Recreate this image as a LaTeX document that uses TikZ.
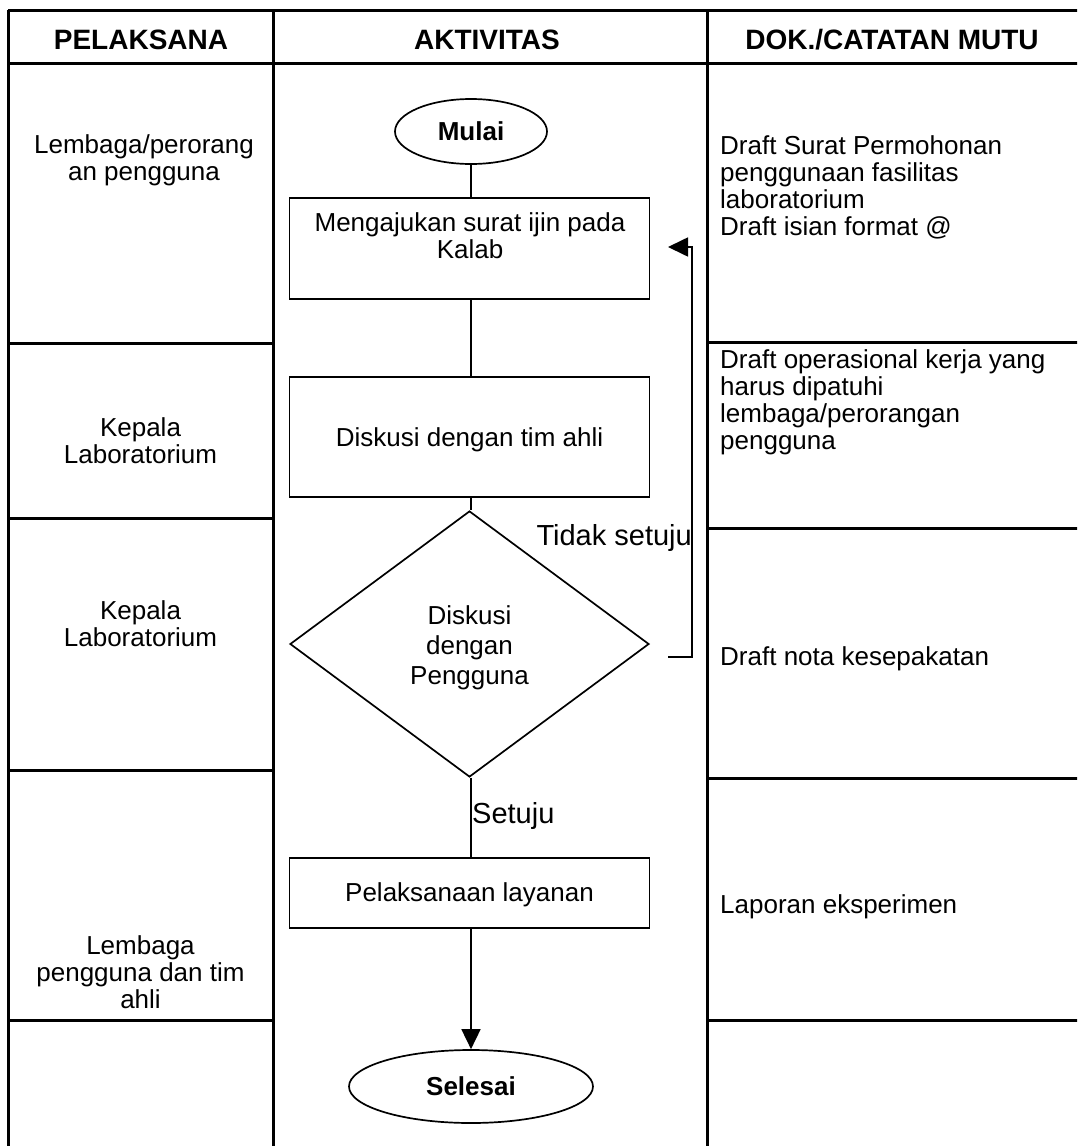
\documentclass[tikz,border=0pt]{standalone}
\usepackage{fontspec}
\setmainfont{Liberation Sans}
\usetikzlibrary{arrows.meta,shapes.geometric}
\tikzset{
  grid/.style={line width=3pt},
  flow/.style={line width=1.7pt},
  txt/.style={font=\fontsize{26}{27}\selectfont, inner sep=0pt},
  head/.style={font=\fontsize{28}{30}\selectfont\bfseries, inner sep=0pt},
  lefttxt/.style={txt, align=center},
  righttxt/.style={txt, align=left, anchor=west},
  boxshape/.style={flow, draw, rectangle, minimum width=360pt, inner sep=0pt},
  term/.style={flow, draw, ellipse, inner sep=0pt, font=\fontsize{26}{27}\selectfont\bfseries},
  dec/.style={flow, draw, diamond, inner sep=0pt, minimum width=359pt, minimum height=266pt},
  lab/.style={font=\fontsize{29}{32}\selectfont, inner sep=0pt},
  tip/.style={-{Triangle[length=20pt,width=19pt]}}
}
\begin{document}
\begin{tikzpicture}[x=1pt,y=-1pt]
\clip (0,0) rectangle (1077,1146);
% table grid
\draw[grid] (8,10) -- (1090,10);
\draw[grid] (8,63) -- (1090,63);
\draw[grid] (8,10) -- (8,1160);
\draw[grid] (273,10) -- (273,1160);
\draw[grid] (707,10) -- (707,1160);
\foreach \y in {343,518,770,1020} \draw[grid] (8,\y) -- (273,\y);
\foreach \y in {342,528,778,1020} \draw[grid] (707,\y) -- (1090,\y);
% headers
\node[head] (h1) at (141,40) {PELAKSANA};
\node[head] (h2) at (487,40) {AKTIVITAS};
\node[head] (h3) at (892,40) {DOK./CATATAN MUTU};
% left column
\node[lefttxt] (l1) at (144,160) {Lembaga/perorang\\an pengguna};
\node[lefttxt] (l2) at (140.5,441) {Kepala\\Laboratorium};
\node[lefttxt] (l3) at (140.5,624) {Kepala\\Laboratorium};
\node[lefttxt] (l4) at (140.5,972) {Lembaga\\pengguna dan tim\\ahli};
% right column
\node[righttxt] (r1) at (720,187) {Draft Surat Permohonan\\penggunaan fasilitas\\laboratorium\\Draft isian format @};
\node[righttxt] (r2) at (720,402) {Draft operasional kerja yang\\harus dipatuhi\\lembaga/perorangan\\pengguna};
\node[txt, anchor=west] (r3) at (720,659) {Draft nota kesepakatan};
\node[txt, anchor=west] (r4) at (720,907) {Laporan eksperimen};
% flow
\node[term, minimum width=152pt, minimum height=65pt] (start) at (471,131.5) {Mulai};
\node[boxshape, minimum height=101pt] (b1) at (469.5,248.5) {};
\node[lefttxt] (b1t) at (470,236) {Mengajukan surat ijin pada\\Kalab};
\node[boxshape, minimum height=120pt] (b2) at (469.5,437) {};
\node[txt] (b2t) at (469.5,440) {Diskusi dengan tim ahli};
\node[dec] (d) at (469.5,644) {};
\node[lefttxt, font=\fontsize{26}{30}\selectfont] (dt) at (469.5,648) {Diskusi\\dengan\\Pengguna};
\node[boxshape, minimum height=70pt] (b3) at (469.5,893) {};
\node[txt] (b3t) at (469.5,895) {Pelaksanaan layanan};
\node[term, minimum width=244pt, minimum height=73pt] (end) at (471,1086.5) {Selesai};
\draw[flow] (start.south) -- (b1.north -| start.south);
\draw[flow] (b1.south -| start.south) -- (b2.north -| start.south);
\draw[flow] (b2.south -| start.south) -- (d.north -| start.south);
\draw[flow] (d.south -| start.south) -- (b3.north -| start.south);
\draw[flow, tip] (b3.south -| start.south) -- (end.north);
\node[lab, anchor=base west] (yes) at (472,823) {Setuju};
\node[lab, anchor=base east] (no) at (692,545) {Tidak setuju};
\coordinate (fb1) at (668,657);
\coordinate (fb2) at (668,247);
\draw[flow] (fb1) -- (692,657) -- (692,247) -- (688,247);
\draw[flow, tip] (692,247) -- (fb2);
\end{tikzpicture}
\end{document}
